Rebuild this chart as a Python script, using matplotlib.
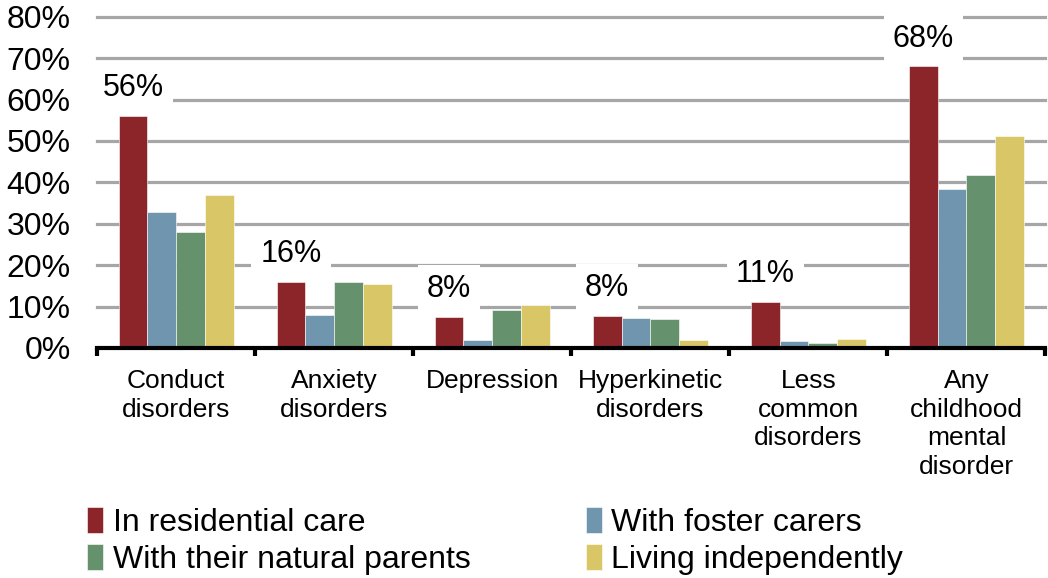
import numpy as np
import matplotlib
matplotlib.use("Agg")
import matplotlib.pyplot as plt

plt.rcParams['font.family'] = ['Liberation Sans', 'DejaVu Sans']

categories = ["Conduct\ndisorders", "Anxiety\ndisorders", "Depression",
              "Hyperkinetic\ndisorders", "Less\ncommon\ndisorders",
              "Any\nchildhood\nmental\ndisorder"]
residential = [56, 16, 7.5, 7.8, 11.2, 68]
foster = [32.8, 7.9, 2.0, 7.2, 1.8, 38.5]
natural = [28, 16, 9.1, 6.9, 1.3, 41.7]
independent = [37, 15.4, 10.3, 2.0, 2.1, 51.2]
red_labels = ["56%", "16%", "8%", "8%", "11%", "68%"]
series_names = ["In residential care", "With foster carers",
                "With their natural parents", "Living independently"]
yticks = [0, 10, 20, 30, 40, 50, 60, 70, 80]

colors = ["#8B252A", "#7096AF", "#65916D", "#D9C767"]

fig = plt.figure(figsize=(10.48, 5.78), dpi=100)
ax = fig.add_axes([0.0926, 0.398, 0.905, 0.573])

x = np.arange(len(categories))
width = 0.182
series = [residential, foster, natural, independent]
bars = []
for i, (vals, col, name) in enumerate(zip(series, colors, series_names)):
    b = ax.bar(x + (i - 1.5) * width, vals, width, color=col, label=name,
               edgecolor="white", linewidth=0.4, zorder=3)
    bars.append(b)

# gridlines
for t in yticks[1:]:
    ax.axhline(t, color="#A6A6A6", linewidth=2.3, zorder=1, clip_on=False)
ax.axhline(0, color="black", linewidth=3, zorder=4, clip_on=False)

ax.set_xlim(-0.5, len(categories) - 0.5)
ax.set_ylim(0, 80)
ax.set_yticks(yticks)
ax.set_yticklabels([f"{t}%" for t in yticks], fontsize=23)
ax.tick_params(axis="y", length=0, pad=19)

ax.set_xticks(x)
ax.set_xticklabels(categories, fontsize=19, linespacing=1.25)
ax.tick_params(axis="x", which="major", length=0, pad=15)
ax.set_xticks(np.arange(-0.5, len(categories)), minor=True)
ax.tick_params(axis="x", which="minor", length=6, width=3, color="black")

for s in ax.spines.values():
    s.set_visible(False)

# value labels above the residential bars
for xi, v, lab in zip(x, residential, red_labels):
    ax.annotate(lab, (xi - 1.5 * width, v), xytext=(0, 20),
                textcoords="offset points", ha="center", va="center",
                fontsize=22, zorder=5,
                bbox=dict(boxstyle="square,pad=0.3", fc="white", ec="none"))

handles = [bars[0], bars[2], bars[1], bars[3]]
fig.legend(handles, [series_names[0], series_names[2], series_names[1], series_names[3]],
           ncol=2, loc="lower left", bbox_to_anchor=(0.056, -0.045),
           frameon=False, fontsize=23, handlelength=0.5, handleheight=0.9,
           handletextpad=0.3, labelspacing=0.18, columnspacing=3.6)

fig.savefig("out.png", dpi=100)
